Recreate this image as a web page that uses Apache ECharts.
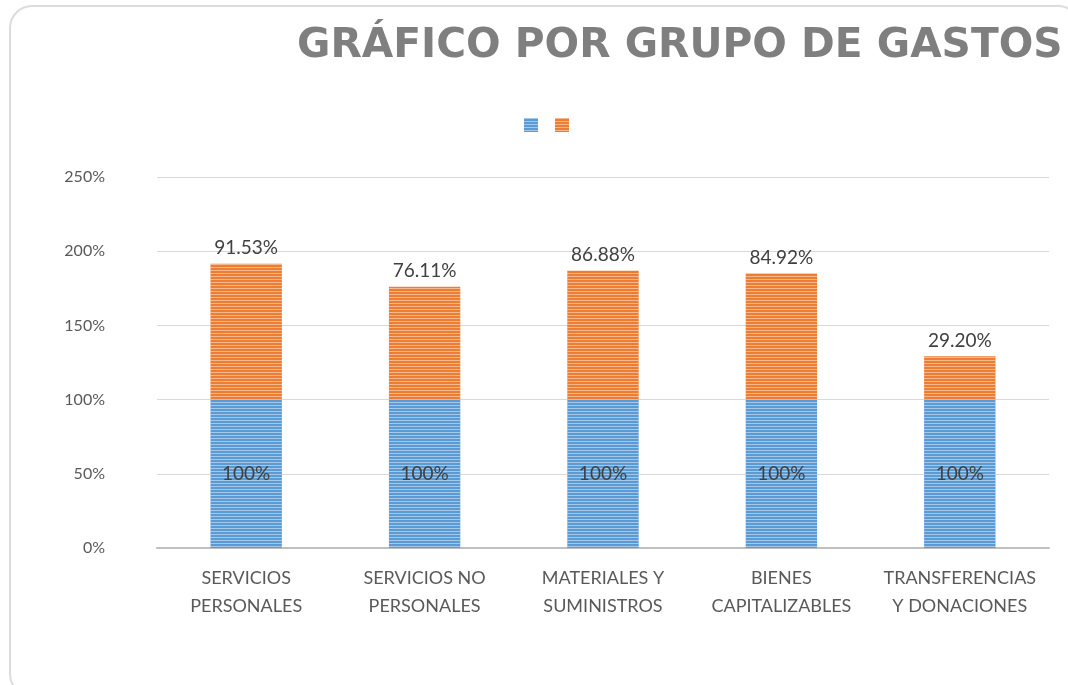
<!DOCTYPE html>
<html>
<head>
<meta charset="utf-8">
<script src="https://cdn.jsdelivr.net/npm/echarts@6/dist/echarts.min.js"></script>
<style>
html,body{margin:0;padding:0;background:#fff;}
#chart{width:1068px;height:685px;}
</style>
</head>
<body>
<div id="chart"></div>
<script>
const categories = ['SERVICIOS\nPERSONALES', 'SERVICIOS NO\nPERSONALES', 'MATERIALES Y\nSUMINISTROS', 'BIENES\nCAPITALIZABLES', 'TRANSFERENCIAS\nY DONACIONES'];
const baseValues = [100, 100, 100, 100, 100];
const execValues = [91.53, 76.11, 86.88, 84.92, 29.20];
const yTicks = [0, 50, 100, 150, 200, 250];
const titleText = 'GRÁFICO POR GRUPO DE GASTOS';

const chart = echarts.init(document.getElementById('chart'));
const stripe = {
  symbol: 'rect',
  symbolSize: 1,
  dashArrayX: [1, 0],
  dashArrayY: [1, 2],
  rotation: 0,
  color: 'rgba(255,255,255,0.45)'
};
chart.setOption({
  animation: false,
  aria: { enabled: false },
  graphic: [{
    type: 'rect', left: 9, top: 5, z: -10,
    shape: { width: 1070, height: 690, r: 22 },
    style: { fill: '#fff', stroke: '#dcdcdc', lineWidth: 2 }
  }],
  title: {
    text: titleText,
    left: 292, top: 21,
    textStyle: { fontFamily: 'DejaVu Sans', fontWeight: 'bold', fontSize: 40.7, color: '#7f7f7f' }
  },
  legend: {
    top: 113, left: 519, itemWidth: 14, itemHeight: 14, itemGap: 17,
    icon: 'rect',
    formatter: () => '',
    data: ['Serie1', 'Serie2'],
    textStyle: { fontSize: 1 }
  },
  grid: { left: 157, right: 19, top: 177, bottom: 137 },
  xAxis: {
    type: 'category', data: categories,
    axisLine: { lineStyle: { color: '#bfbfbf', width: 2 } },
    axisTick: { show: false },
    axisLabel: { color: '#595959', fontSize: 18, fontFamily: 'Lato', lineHeight: 28, margin: 16, interval: 0 }
  },
  yAxis: {
    type: 'value', min: yTicks[0], max: yTicks[yTicks.length - 1], interval: 50,
    axisLine: { show: false }, axisTick: { show: false },
    splitLine: { lineStyle: { color: '#d9d9d9', width: 1 } },
    axisLabel: { color: '#595959', fontSize: 16, fontFamily: 'Lato', margin: 52, formatter: v => v + '%' }
  },
  series: [{
    name: 'Serie1', type: 'bar', stack: 's', data: baseValues, barWidth: '40%',
    itemStyle: { color: '#5b9bd5', decal: stripe },
    label: { show: true, position: 'inside', color: '#404040', fontSize: 19, fontFamily: 'Lato', formatter: p => p.value + '%' }
  }, {
    name: 'Serie2', type: 'bar', stack: 's', data: execValues, barWidth: '40%',
    itemStyle: { color: '#ed7d31', decal: stripe },
    label: { show: true, position: 'top', distance: 6, color: '#404040', fontSize: 19, fontFamily: 'Lato', formatter: p => p.value.toFixed(2) + '%' }
  }]
});
</script>
</body>
</html>
